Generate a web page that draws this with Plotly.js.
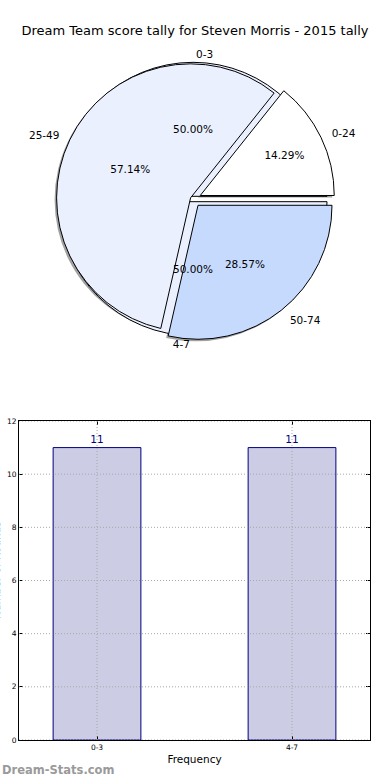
<!DOCTYPE html>
<html>
<head>
<meta charset="utf-8">
<script src="https://cdn.plot.ly/plotly-3.0.1.min.js"></script>
<style>html,body{margin:0;padding:0;background:#fff;}#chart{width:390px;height:780px;}</style>
</head>
<body>
<div id="chart"></div>
<script>
// ---- data ----
const chartTitle = "Dream Team score tally for Steven Morris - 2015 tally";
const outerLabels = ["0-3", "4-7"];
const outerValues = [11, 11];
const innerLabels = ["0-24", "25-49", "50-74"];
const innerValues = [1, 4, 2];
const barCategories = ["0-3", "4-7"];
const barValues = [11, 11];
const yTickVals = [0, 2, 4, 6, 8, 10, 12];

// ---- styling / layout helpers ----
const W = 390, H = 780;
const cx = 193, cy = 199, R = 134;
const innerPull = [0.06, 0.02, 0.06];
const outerPull = [0.02, 0.02];
function dom(pull, dx, dy, scale) {
  const m = Math.max.apply(null, pull);
  const half = R * (scale || 1) * (1 + m);
  return {
    x: [(cx + (dx || 0) - half) / W, (cx + (dx || 0) + half) / W],
    y: [1 - (cy + (dy || 0) + half) / H, 1 - (cy + (dy || 0) - half) / H]
  };
}
// start first slice at 3 o'clock going counterclockwise (matplotlib default)
function startRot(vals) {
  const tot = vals.reduce((a, b) => a + b, 0);
  return 90 - 360 * vals[0] / tot;
}
const FONT = "DejaVu Sans";
const clear = "rgba(0,0,0,0)";
const pieBase = {
  type: "pie", sort: false, direction: "counterclockwise",
  hoverinfo: "skip", showlegend: false
};
const innerRot = startRot(innerValues);
const outerRot = startRot(outerValues);

const traces = [
  // shadow
  Object.assign({}, pieBase, {
    labels: innerLabels, values: innerValues, pull: innerPull, rotation: innerRot,
    domain: dom(innerPull, -2, 2), textinfo: "none",
    marker: { colors: ["#7a7a7a", "#7a7a7a", "#7a7a7a"], line: { width: 0 } },
    opacity: 0.7
  }),
  // outer pie fill
  Object.assign({}, pieBase, {
    labels: outerLabels, values: outerValues, pull: outerPull, rotation: outerRot,
    domain: dom(outerPull), textinfo: "none",
    marker: { colors: ["#eaf0fe", "#eaf0fe"], line: { color: "#000", width: 1 } }
  }),
  // inner pie fill + percentages
  Object.assign({}, pieBase, {
    labels: innerLabels, values: innerValues, pull: innerPull, rotation: innerRot,
    domain: dom(innerPull),
    texttemplate: "%{percent:.2%}", textposition: "inside",
    insidetextorientation: "horizontal",
    textfont: { family: FONT, size: 10.5, color: "#000" },
    marker: { colors: ["#ffffff", "#eaf0fe", "#c6dafe"], line: { color: "#000", width: 1 } }
  }),
  // outer percentages
  Object.assign({}, pieBase, {
    labels: outerLabels, values: outerValues, pull: outerPull, rotation: outerRot,
    domain: dom(outerPull),
    texttemplate: "%{percent:.2%}", textposition: "inside",
    insidetextorientation: "horizontal",
    textfont: { family: FONT, size: 10.5, color: "#000" },
    marker: { colors: [clear, clear], line: { width: 0 } }
  }),
  // outer labels
  Object.assign({}, pieBase, {
    labels: outerLabels, values: outerValues, pull: outerPull, rotation: outerRot,
    domain: dom(outerPull, 0, 0, 1.02),
    texttemplate: "%{label}", textposition: "outside",
    textfont: { family: FONT, size: 10.5, color: "#000" },
    marker: { colors: [clear, clear], line: { width: 0 } }
  }),
  // inner labels
  Object.assign({}, pieBase, {
    labels: innerLabels, values: innerValues, pull: innerPull, rotation: innerRot,
    domain: dom(innerPull, 0, 0, 1.06),
    texttemplate: "%{label}", textposition: "outside",
    textfont: { family: FONT, size: 10.5, color: "#000" },
    marker: { colors: [clear, clear, clear], line: { width: 0 } }
  }),
  // bar chart
  {
    type: "bar", x: barCategories, y: barValues, width: 0.45,
    xaxis: "x", yaxis: "y",
    marker: { color: "#ccccE5", line: { color: "#000080", width: 1 } },
    text: barValues.map(String), textposition: "outside", cliponaxis: false,
    textfont: { family: FONT, size: 10.5, color: "#000080" },
    hoverinfo: "skip", showlegend: false
  }
];

const axisCommon = {
  showline: true, mirror: "ticks", linecolor: "#000", linewidth: 1,
  ticks: "inside", ticklen: 4, tickcolor: "#000",
  showgrid: false, zeroline: false, layer: "above traces",
  tickfont: { family: FONT, size: 7.5, color: "#000" }
};

// dotted grid drawn above the bars, as in the reference
const gridLine = { color: "#a8a8a8", width: 1, dash: "1px,2px" };
const shapes = [];
yTickVals.forEach(v => shapes.push({
  type: "line", layer: "above", xref: "x domain", yref: "y",
  x0: 0, x1: 1, y0: v, y1: v, line: gridLine
}));
barCategories.forEach(c => shapes.push({
  type: "line", layer: "above", xref: "x", yref: "y domain",
  x0: c, x1: c, y0: 0, y1: 1, line: gridLine
}));

const layout = {
  width: W, height: H,
  margin: { l: 0, r: 0, t: 0, b: 0 },
  paper_bgcolor: "#fff", plot_bgcolor: "#fff",
  font: { family: FONT, color: "#000" },
  title: {
    text: chartTitle, x: 0.5, xanchor: "center", xref: "paper",
    y: 1 - 30 / H, yanchor: "middle", yref: "container",
    font: { family: FONT, size: 13, color: "#000" }
  },
  xaxis: Object.assign({}, axisCommon, {
    domain: [19 / W, 370 / W], type: "category", range: [-0.4, 1.4],
    anchor: "y",
    title: { text: "Frequency", font: { family: FONT, size: 10.5 }, standoff: 4 }
  }),
  yaxis: Object.assign({}, axisCommon, {
    domain: [40 / H, 359 / H], range: [0, 12], tickvals: yTickVals,
    anchor: "x"
  }),
  shapes: shapes,
  annotations: [
    {
      text: "Number of Rounds", xref: "paper", yref: "paper",
      x: -4 / W, y: 1 - 570 / H, textangle: -90, showarrow: false,
      xanchor: "center", yanchor: "middle",
      font: { family: FONT, size: 10.5, color: "#000" }
    },
    {
      text: "<b>Dream-Stats.com</b>", xref: "paper", yref: "paper",
      x: 0, y: 1 - 770 / H, xanchor: "left", yanchor: "middle", showarrow: false,
      font: { family: FONT, size: 11.5, color: "#9a9a9a" }
    }
  ]
};

Plotly.newPlot("chart", traces, layout, { staticPlot: true, displayModeBar: false });
</script>
</body>
</html>
